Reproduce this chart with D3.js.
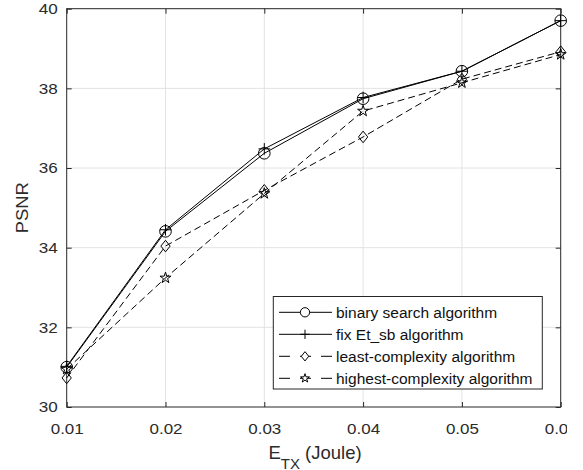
<!DOCTYPE html>
<html>
    <head>
        <script src="https://cdnjs.cloudflare.com/ajax/libs/d3/7.8.5/d3.min.js"></script>
        <title>PSNR vs E_TX</title>
        <style>
            html, body {
                margin: 0;
                background: white;
            }
            .chart {
                display: block;
                font-family: "Liberation Sans", Arial, sans-serif;
            }
        </style>
    </head>
    <body>
        <svg class="chart" width="567" height="470"></svg>

        <script>
            // data
            var energy = [0.01, 0.02, 0.03, 0.04, 0.05, 0.06];
            var binarySearch = [31.0, 34.41, 36.37, 37.74, 38.43, 39.70];
            var fixEtSb = [31.02, 34.45, 36.48, 37.77, 38.43, 39.70];
            var leastComplexity = [30.73, 34.04, 35.44, 36.78, 38.23, 38.92];
            var highestComplexity = [30.95, 33.24, 35.36, 37.43, 38.14, 38.85];
            var xTicks = [0.01, 0.02, 0.03, 0.04, 0.05, 0.06];
            var yTicks = [30, 32, 34, 36, 38, 40];

            var series = [
                {name: "binary search algorithm", values: binarySearch, marker: "circle", dash: null},
                {name: "fix Et_sb algorithm", values: fixEtSb, marker: "plus", dash: null},
                {name: "least-complexity algorithm", values: leastComplexity, marker: "diamond", dash: "7,4"},
                {name: "highest-complexity algorithm", values: highestComplexity, marker: "star", dash: "7,4"}
            ];

            // plot box (note: "top" is a reserved global in browsers)
            var plotL = 66.7, plotR = 560.7, plotT = 8.7, plotB = 407;
            var axisColor = "#262626";

            var svg = d3.select(".chart");

            var x = d3.scaleLinear().domain([0.01, 0.06]).range([plotL, plotR]);
            var y = d3.scaleLinear().domain([30, 40]).range([plotB, plotT]);

            // grid
            svg.append("g").selectAll("line")
                .data(xTicks.slice(1, -1))
                .enter().append("line")
                .attr("x1", function(d){ return x(d); })
                .attr("x2", function(d){ return x(d); })
                .attr("y1", plotT).attr("y2", plotB)
                .attr("stroke", "#e3e3e3").attr("stroke-width", 1);
            svg.append("g").selectAll("line")
                .data(yTicks.slice(1, -1))
                .enter().append("line")
                .attr("y1", function(d){ return y(d); })
                .attr("y2", function(d){ return y(d); })
                .attr("x1", plotL).attr("x2", plotR)
                .attr("stroke", "#e3e3e3").attr("stroke-width", 1);

            // axes with inward ticks
            function styleAxis(g) {
                g.select(".domain").remove();
                g.selectAll(".tick line").attr("stroke", axisColor);
                g.selectAll(".tick text")
                    .attr("fill", "#2b2b2b")
                    .style("font-family", "'Liberation Sans', Arial, sans-serif")
                    .style("font-size", "15.5px");
            }

            svg.append("g")
                .attr("transform", "translate(0," + plotB + ")")
                .call(d3.axisBottom(x).tickValues(xTicks).tickSizeInner(-5).tickSizeOuter(0)
                    .tickPadding(16).tickFormat(d3.format(".2f")))
                .call(styleAxis)
                .selectAll(".tick text")
                .attr("textLength", 33).attr("lengthAdjust", "spacingAndGlyphs");
            svg.append("g")
                .attr("transform", "translate(0," + plotT + ")")
                .call(d3.axisTop(x).tickValues(xTicks).tickSizeInner(-5).tickSizeOuter(0).tickFormat(""))
                .call(styleAxis);
            svg.append("g")
                .attr("transform", "translate(" + plotL + ",0)")
                .call(d3.axisLeft(y).tickValues(yTicks).tickSizeInner(-5).tickSizeOuter(0)
                    .tickPadding(9).tickFormat(d3.format("d")))
                .call(styleAxis)
                .selectAll(".tick text")
                .attr("textLength", 19).attr("lengthAdjust", "spacingAndGlyphs");
            svg.append("g")
                .attr("transform", "translate(" + plotR + ",0)")
                .call(d3.axisRight(y).tickValues(yTicks).tickSizeInner(-5).tickSizeOuter(0).tickFormat(""))
                .call(styleAxis);

            svg.append("rect")
                .attr("x", plotL).attr("y", plotT)
                .attr("width", plotR - plotL).attr("height", plotB - plotT)
                .attr("fill", "none").attr("stroke", axisColor).attr("stroke-width", 1);

            // markers, k scales them down for the legend
            function markerPath(type, k) {
                var r = 5.8 * k;
                if (type === "diamond") return "M0," + (-r) + "L" + (r * 0.8) + ",0L0," + r + "L" + (-r * 0.8) + ",0Z";
                if (type === "plus") return "M" + (-r) + ",0H" + r + "M0," + (-r) + "V" + r;
                if (type === "star") return d3.symbol().type(d3.symbolStar).size(r * r / 0.89)();
                return d3.symbol().type(d3.symbolCircle).size(Math.PI * r * r)();
            }

            var line = d3.line()
                .x(function(d, i){ return x(energy[i]); })
                .y(function(d){ return y(d); });

            var groups = svg.append("g").selectAll("g")
                .data(series)
                .enter().append("g");

            groups.append("path")
                .attr("d", function(d){ return line(d.values); })
                .attr("fill", "none")
                .attr("stroke", "black")
                .attr("stroke-width", 1)
                .attr("stroke-dasharray", function(d){ return d.dash; });

            groups.each(function(s) {
                d3.select(this).selectAll("path.mk")
                    .data(s.values)
                    .enter().append("path")
                    .attr("class", "mk")
                    .attr("transform", function(d, i){ return "translate(" + x(energy[i]) + "," + y(d) + ")"; })
                    .attr("d", markerPath(s.marker, 1))
                    .attr("fill", "none")
                    .attr("stroke", "black")
                    .attr("stroke-width", 1);
            });

            // legend
            var lg = svg.append("g");
            lg.append("rect")
                .attr("x", 273.3).attr("y", 296.5)
                .attr("width", 269).attr("height", 92.5)
                .attr("fill", "white").attr("stroke", axisColor).attr("stroke-width", 1);

            var rows = lg.selectAll("g")
                .data(series)
                .enter().append("g")
                .attr("transform", function(d, i){ return "translate(0," + (312.3 + i * 22) + ")"; });
            rows.append("line")
                .attr("x1", 279).attr("x2", 332)
                .attr("stroke", "black").attr("stroke-width", 1)
                .attr("stroke-dasharray", function(d){ return d.dash ? "11,10,11,10,11,2" : null; });
            rows.append("path")
                .attr("transform", "translate(305,0)")
                .attr("d", function(d){ return markerPath(d.marker, 0.8); })
                .attr("fill", "white")
                .attr("stroke", "black").attr("stroke-width", 1);
            rows.append("text")
                .attr("x", 336).attr("y", 5.5)
                .attr("fill", "#111")
                .style("font-size", "15.5px")
                .text(function(d){ return d.name; });

            // axis labels
            var xl = svg.append("text")
                .attr("x", 315).attr("y", 458.5)
                .attr("text-anchor", "middle")
                .attr("fill", "#2b2b2b")
                .style("font-size", "18.5px");
            xl.append("tspan").text("E");
            xl.append("tspan").attr("dy", 10).style("font-size", "15px").text("TX");
            xl.append("tspan").attr("dy", -10).text(" (Joule)");

            svg.append("text")
                .attr("transform", "translate(27.5," + ((plotT + plotB) / 2) + ") rotate(-90)")
                .attr("text-anchor", "middle")
                .attr("fill", "#2b2b2b")
                .attr("textLength", 51).attr("lengthAdjust", "spacingAndGlyphs")
                .style("font-size", "16px")
                .text("PSNR");
        </script>
    </body>
</html>
